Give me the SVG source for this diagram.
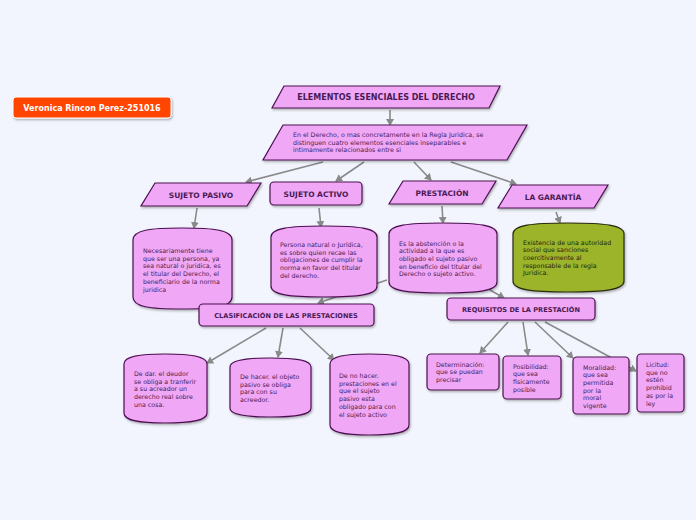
<svg xmlns="http://www.w3.org/2000/svg" width="696" height="520" viewBox="0 0 696 520">
<defs>
<marker id="ah" markerWidth="8" markerHeight="8" refX="6" refY="4" orient="auto" markerUnits="userSpaceOnUse"><path d="M0,0 L7,4 L0,8 Z" fill="#8a8a8a"/></marker>
<filter id="sh" x="-10%" y="-10%" width="130%" height="130%"><feDropShadow dx="1" dy="1.5" stdDeviation="1" flood-color="#000" flood-opacity="0.3"/></filter>
</defs>
<style>
.n{fill:#f0a8f6;stroke:#4c1050;stroke-width:1.2;filter:url(#sh)}
.g{fill:#9cb42a;stroke:#2a2a10;stroke-width:1.2;filter:url(#sh)}
.h{font-family:"DejaVu Sans",Verdana,sans-serif;font-weight:bold;fill:#4a1a55;text-anchor:middle}
.t{font-family:"DejaVu Sans",Verdana,sans-serif;font-size:6.3px;fill:#4a1a55}
.c{stroke:#8a8a8a;stroke-width:1.6;fill:none;marker-end:url(#ah)}
</style>
<rect width="696" height="520" fill="#f2f5fd"/>
<g id="connectors">
<line class="c" x1="390" y1="110" x2="390" y2="125"/>
<line class="c" x1="323" y1="162" x2="246" y2="182"/>
<line class="c" x1="364" y1="162" x2="336" y2="181"/>
<line class="c" x1="414" y1="162" x2="431" y2="180"/>
<line class="c" x1="451" y1="162" x2="516" y2="184"/>
<line class="c" x1="197" y1="208" x2="194" y2="228"/>
<line class="c" x1="319" y1="208" x2="321" y2="227"/>
<line class="c" x1="442" y1="206" x2="443" y2="223"/>
<line class="c" x1="556" y1="212" x2="560" y2="223"/>
<line class="c" x1="387" y1="280" x2="318" y2="303"/>
<line class="c" x1="490" y1="290" x2="504" y2="298"/>
<line class="c" x1="266" y1="328" x2="207" y2="363"/>
<line class="c" x1="283" y1="328" x2="278" y2="357"/>
<line class="c" x1="300" y1="328" x2="334" y2="360"/>
<line class="c" x1="508" y1="322" x2="480" y2="353"/>
<line class="c" x1="523" y1="322" x2="528" y2="355"/>
<line class="c" x1="535" y1="322" x2="573" y2="358"/>
<line class="c" x1="545" y1="322" x2="636" y2="371"/>
</g>
<g id="author">
<rect x="13" y="97" width="158" height="21" rx="3" fill="#ff4500" stroke="#ffffff" stroke-width="1" filter="url(#sh)"/>
<text x="92" y="110.5" font-family="DejaVu Sans,Verdana,sans-serif" font-weight="bold" font-size="8px" fill="#ffffff" text-anchor="middle">Veronica Rincon Perez-251016</text>
</g>
<g id="elementos">
<path class="n" d="M284,86 L500,86 L489,108 L272,108 Z"/>
<text class="h" x="386" y="100" font-size="8px">ELEMENTOS ESENCIALES DEL DERECHO</text>
</g>
<g id="derecho">
<path class="n" d="M283,125 L527,125 L507,160 L263,160 Z"/>
<text class="t" x="293" y="137">En el Derecho, o mas concretamente en la Regla Juridica, se</text>
<text class="t" x="293" y="144.5">distinguen cuatro elementos esenciales inseparables e</text>
<text class="t" x="293" y="152">intimamente relacionados entre si</text>
</g>
<g id="sujeto-pasivo">
<path class="n" d="M155,183 L261,183 L247,206 L141,206 Z"/>
<text class="h" x="201" y="197.5" font-size="7.5px">SUJETO PASIVO</text>
</g>
<g id="sujeto-activo">
<rect class="n" x="270" y="182" width="92" height="23" rx="4"/>
<text class="h" x="316" y="196.5" font-size="7.5px">SUJETO ACTIVO</text>
</g>
<g id="prestacion">
<path class="n" d="M403,181 L496,181 L482,204 L389,204 Z"/>
<text class="h" x="442" y="195.5" font-size="7.5px">PRESTACIÓN</text>
</g>
<g id="garantia">
<path class="n" d="M512,185 L608,185 L594,208 L498,208 Z"/>
<text class="h" x="553" y="199.5" font-size="7.5px">LA GARANTÍA</text>
</g>
<g id="pasivo-desc">
<path class="n" d="M133,240 C133,230 150,228 182,228 C214,228 232,230 232,240 L232,297 C232,307 214,309 182,309 C150,309 133,307 133,297 Z"/>
<text class="t" x="143" y="253">Necesariamente tiene</text>
<text class="t" x="143" y="260.7">que ser una persona, ya</text>
<text class="t" x="143" y="268.4">sea natural o juridica, es</text>
<text class="t" x="143" y="276.1">el titular del Derecho, el</text>
<text class="t" x="143" y="283.8">beneficiario de la norma</text>
<text class="t" x="143" y="291.5">juridica</text>
</g>
<g id="activo-desc">
<path class="n" d="M271,237 C271,228 290,226 324,226 C358,226 377,228 377,237 L377,286 C377,295 358,297 324,297 C290,297 271,295 271,286 Z"/>
<text class="t" x="280" y="247">Persona natural o Jurídica,</text>
<text class="t" x="280" y="254.7">es sobre quien recae las</text>
<text class="t" x="280" y="262.4">obligaciones de cumplir la</text>
<text class="t" x="280" y="270.1">norma en favor del titular</text>
<text class="t" x="280" y="277.8">del derecho.</text>
</g>
<g id="prestacion-desc">
<path class="n" d="M389,234 C389,225 408,223 443,223 C478,223 497,225 497,234 L497,282 C497,291 478,293 443,293 C408,293 389,291 389,282 Z"/>
<text class="t" x="399" y="245.5">Es la abstención o la</text>
<text class="t" x="399" y="253.2">actividad a la que es</text>
<text class="t" x="399" y="260.9">obligado el sujeto pasivo</text>
<text class="t" x="399" y="268.6">en beneficio del titular del</text>
<text class="t" x="399" y="276.3">Derecho o sujeto activo.</text>
</g>
<g id="garantia-desc">
<path class="g" d="M513,234 C513,225 532,223 568,223 C604,223 624,225 624,234 L624,281 C624,290 604,292 568,292 C532,292 513,290 513,281 Z"/>
<text class="t" x="523" y="244.5" fill="#1e1e10" style="fill:#1e1e10">Existencia de una autoridad</text>
<text class="t" x="523" y="252.2" style="fill:#1e1e10">social que sanciones</text>
<text class="t" x="523" y="259.9" style="fill:#1e1e10">coercitivamente al</text>
<text class="t" x="523" y="267.6" style="fill:#1e1e10">responsable de la regla</text>
<text class="t" x="523" y="275.3" style="fill:#1e1e10">Juridica.</text>
</g>
<g id="clasificacion">
<rect class="n" x="199" y="304" width="175" height="22" rx="4"/>
<text class="h" x="286" y="318" font-size="6.6px">CLASIFICACIÓN DE LAS PRESTACIONES</text>
</g>
<g id="requisitos">
<rect class="n" x="447" y="298" width="148" height="22" rx="4"/>
<text class="h" x="521" y="312" font-size="6.6px">REQUISITOS DE LA PRESTACIÓN</text>
</g>
<g id="dar">
<path class="n" d="M124,364 C124,356 140,354 165,354 C190,354 207,356 207,364 L207,413 C207,421 190,423 165,423 C140,423 124,421 124,413 Z"/>
<text class="t" x="134" y="376">De dar. el deudor</text>
<text class="t" x="134" y="383.7">se obliga a tranferir</text>
<text class="t" x="134" y="391.4">a su acreador un</text>
<text class="t" x="134" y="399.1">derecho real sobre</text>
<text class="t" x="134" y="406.8">una cosa.</text>
</g>
<g id="hacer">
<path class="n" d="M230,367 C230,360 246,358 270,358 C295,358 311,360 311,367 L311,408 C311,415 295,417 270,417 C246,417 230,415 230,408 Z"/>
<text class="t" x="240" y="379">De hacer. el objeto</text>
<text class="t" x="240" y="386.7">pasivo se obliga</text>
<text class="t" x="240" y="394.4">para con su</text>
<text class="t" x="240" y="402.1">acreedor.</text>
</g>
<g id="no-hacer">
<path class="n" d="M330,364 C330,356 346,354 369,354 C393,354 409,356 409,364 L409,425 C409,433 393,435 369,435 C346,435 330,433 330,425 Z"/>
<text class="t" x="339" y="378">De no hacer.</text>
<text class="t" x="339" y="385.7">prestaciones en el</text>
<text class="t" x="339" y="393.4">que el sujeto</text>
<text class="t" x="339" y="401.1">pasivo esta</text>
<text class="t" x="339" y="408.8">obligado para con</text>
<text class="t" x="339" y="416.5">el sujeto activo</text>
</g>
<g id="determinacion">
<rect class="n" x="427" y="354" width="72" height="36" rx="4"/>
<text class="t" x="436" y="366.5">Determinación:</text>
<text class="t" x="436" y="374.2">que se puedan</text>
<text class="t" x="436" y="381.9">precisar</text>
</g>
<g id="posibilidad">
<rect class="n" x="503" y="356" width="58" height="43" rx="4"/>
<text class="t" x="513" y="368.5">Posibilidad:</text>
<text class="t" x="513" y="376.2">que sea</text>
<text class="t" x="513" y="383.9">fisicamente</text>
<text class="t" x="513" y="391.6">posible</text>
</g>
<g id="moralidad">
<rect class="n" x="573" y="357" width="56" height="57" rx="4"/>
<text class="t" x="583" y="369.5">Moralidad:</text>
<text class="t" x="583" y="377.2">que sea</text>
<text class="t" x="583" y="384.9">permitida</text>
<text class="t" x="583" y="392.6">por la</text>
<text class="t" x="583" y="400.3">moral</text>
<text class="t" x="583" y="408">vigente</text>
</g>
<g id="licitud">
<rect class="n" x="637" y="354" width="47" height="58" rx="4"/>
<text class="t" x="646" y="367">Licitud:</text>
<text class="t" x="646" y="374.7">que no</text>
<text class="t" x="646" y="382.4">estén</text>
<text class="t" x="646" y="390.1">prohibid</text>
<text class="t" x="646" y="397.8">as por la</text>
<text class="t" x="646" y="405.5">ley</text>
</g>
</svg>
